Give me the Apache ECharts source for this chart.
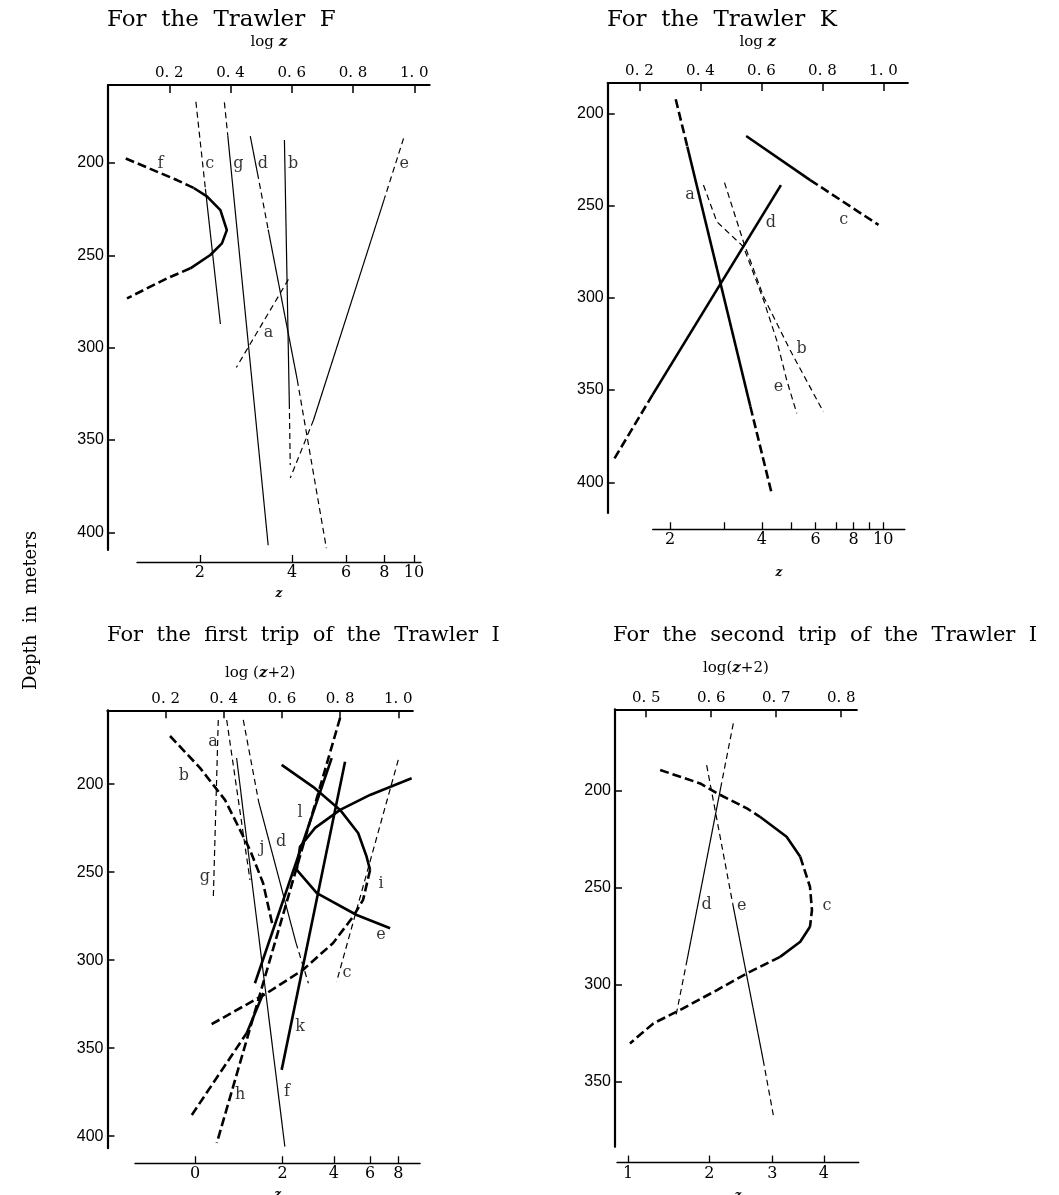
<!DOCTYPE html>
<html>
<head>
<meta charset="utf-8">
<script src="https://cdn.jsdelivr.net/npm/echarts@6/dist/echarts.min.js"></script>
<style>
html, body { margin: 0; background: #fff; }
#main { width: 1059px; height: 1195px; }
</style>
</head>
<body>
<div id="main"></div>
<script>
// ---- data: [log z (or log(z+2)), depth m] ----
// Trawler F
var F_f1 = [[0.058,197.5],[0.225,209.2],[0.28,213.5]];
var F_f2 = [[0.28,213.5],[0.323,218],[0.367,225.5],[0.388,236.3],[0.372,243.5],[0.334,249.8],[0.269,257]];
var F_f3 = [[0.269,257],[0.192,262.5],[0.062,273.3]];
var F_c1 = [[0.287,166.8],[0.318,214]];
var F_c2 = [[0.318,214],[0.367,287.2]];
var F_g1 = [[0.380,167.1],[0.391,185]];
var F_g2 = [[0.391,185],[0.523,407]];
var F_d1 = [[0.4645,185.4],[0.488,205.4]];
var F_d2 = [[0.488,205.4],[0.523,236]];
var F_d3 = [[0.523,236],[0.618,317.5]];
var F_d4 = [[0.618,317.5],[0.713,408.6]];
var F_b1 = [[0.576,187.5],[0.592,330]];
var F_b2 = [[0.592,330],[0.595,363.6]];
var F_e1 = [[0.965,186.6],[0.903,219]];
var F_e2 = [[0.903,219],[0.671,339.2]];
var F_e3 = [[0.671,339.2],[0.595,370.6]];
var F_a = [[0.589,263],[0.419,310.7]];
var F_labels = [['f',0.171,200.2],['c',0.332,200.2],['g',0.426,200.2],['d',0.506,200.2],['b',0.604,200.2],['e',0.967,200.2],['a',0.524,291.9]];

// Trawler K
var K_a1 = [[0.319,192.4],[0.357,218]];
var K_a2 = [[0.357,218],[0.564,359]];
var K_a3 = [[0.564,359],[0.635,406.9]];
var K_c1 = [[0.550,212.3],[0.760,236.2]];
var K_c2 = [[0.760,236.2],[0.984,260.5]];
var K_d1 = [[0.664,238.9],[0.243,352.6]];
var K_d2 = [[0.243,352.6],[0.115,387.9]];
var K_b = [[0.479,237.6],[0.541,269.6],[0.607,299.4],[0.694,328.3],[0.803,361.7]];
var K_e = [[0.410,238.9],[0.454,258.8],[0.541,272.3],[0.607,301.2],[0.650,322.9],[0.683,344.6],[0.716,362.6]];
var K_labels = [['a',0.366,244.4],['c',0.870,257.5],['d',0.631,259.3],['b',0.732,327.4],['e',0.656,348.5]];

// Trawler I, first trip (log(z+2))
var I1_a = [[0.410,163.5],[0.490,254.4]];
var I1_g = [[0.381,163.5],[0.364,264.0]];
var I1_b = [[0.215,172.6],[0.318,190.7],[0.404,208.9],[0.490,237.3],[0.535,256.1],[0.569,281.1]];
var I1_d1 = [[0.467,163.5],[0.52,210]];
var I1_d2 = [[0.52,210],[0.648,290]];
var I1_d3 = [[0.648,290],[0.691,313.1]];
var I1_f = [[0.444,185.1],[0.610,405.9]];
var I1_c = [[1.000,186.2],[0.788,312.2]];
var I1_e = [[1.046,196.6],[0.903,206.1],[0.800,214.6],[0.714,224.8],[0.662,235.5],[0.651,248.7],[0.720,261.9],[0.857,274.3],[0.972,281.8]];
var I1_i1 = [[0.599,189.0],[0.707,201.5],[0.800,214.6],[0.862,227.7],[0.891,241.1],[0.903,248.7]];
var I1_i2 = [[0.903,248.7],[0.879,265.7],[0.844,275.4],[0.776,290.2],[0.672,305.5],[0.549,318.6],[0.353,336.8]];
var I1_L = [[0.800,162.3],[0.376,403.8]];
var I1_l = [[0.771,185.2],[0.507,313.1]];
var I1_k = [[0.817,187.2],[0.599,362.3]];
var I1_h1 = [[0.290,387.9],[0.479,341.3]];
var I1_h2 = [[0.479,341.3],[0.536,318.6]];
var I1_labels = [['a',0.363,176],['b',0.263,195.3],['g',0.335,252.7],['j',0.531,236.2],['d',0.597,232.8],['l',0.662,216.3],
  ['i',0.941,256.6],['e',0.941,285.6],['c',0.824,307.2],['k',0.662,337.9],['h',0.456,376.5],['f',0.617,374.8]];

// Trawler I, second trip (log(z+2))
var I2_c1 = [[0.5215,189.3],[0.583,196.2],[0.609,201.3],[0.655,209.1],[0.675,213.4]];
var I2_c2 = [[0.675,213.4],[0.716,223.7],[0.737,234.0]];
var I2_c3 = [[0.737,234.0],[0.752,249.5],[0.755,261.5],[0.752,270.1]];
var I2_c4 = [[0.752,270.1],[0.737,277.8],[0.706,285.6]];
var I2_c5 = [[0.706,285.6],[0.655,294.1],[0.609,302.7],[0.552,313.0],[0.511,319.9],[0.475,330.2]];
var I2_d1 = [[0.634,165.3],[0.616,196]];
var I2_d2 = [[0.616,196],[0.563,287]];
var I2_d3 = [[0.563,287],[0.545,317.3]];
var I2_e1 = [[0.593,186.8],[0.633,258]];
var I2_e2 = [[0.633,258],[0.680,338.8]];
var I2_e3 = [[0.680,338.8],[0.696,368]];
var I2_labels = [['d',0.593,259],['e',0.647,259.4],['c',0.778,259.4]];

// axis ticks
var depthTicks = [200, 250, 300, 350, 400];
var topTicksA = [0.2, 0.4, 0.6, 0.8, 1.0];
var topTicksB = [0.5, 0.6, 0.7, 0.8];
var zTicksF = [2, 4, 6, 8, 10];
var zTicksK = [2, 3, 4, 5, 6, 7, 8, 9, 10];
var zLabelsK = [2, 4, 6, 8, 10];
var zTicksI1 = [0, 2, 4, 6, 8];
var zTicksI2 = [1, 2, 3, 4];

var THIN = 1.2, THICK = 2.6;
var pieces = [
  // panel, data, width, dashed
  [0, F_f1, THICK, true], [0, F_f2, THICK, false], [0, F_f3, THICK, true],
  [0, F_c1, THIN, true], [0, F_c2, THIN, false],
  [0, F_g1, THIN, true], [0, F_g2, THIN, false],
  [0, F_d1, THIN, false], [0, F_d2, THIN, true], [0, F_d3, THIN, false], [0, F_d4, THIN, true],
  [0, F_b1, THIN, false], [0, F_b2, THIN, true],
  [0, F_e1, THIN, true], [0, F_e2, THIN, false], [0, F_e3, THIN, true],
  [0, F_a, THIN, true],
  [1, K_a1, THICK, true], [1, K_a2, THICK, false], [1, K_a3, THICK, true],
  [1, K_c1, THICK, false], [1, K_c2, THICK, true],
  [1, K_d1, THICK, false], [1, K_d2, THICK, true],
  [1, K_b, THIN, true], [1, K_e, THIN, true],
  [2, I1_a, THIN, true], [2, I1_g, THIN, true], [2, I1_b, THICK, true],
  [2, I1_d1, THIN, true], [2, I1_d2, THIN, false], [2, I1_d3, THIN, true],
  [2, I1_f, THIN, false], [2, I1_c, THIN, true],
  [2, I1_e, THICK, false], [2, I1_i1, THICK, false], [2, I1_i2, THICK, true],
  [2, I1_L, THICK, true], [2, I1_l, THICK, false], [2, I1_k, THICK, false],
  [2, I1_h1, THICK, true], [2, I1_h2, THICK, false],
  [3, I2_c1, THICK, true], [3, I2_c2, THICK, false], [3, I2_c3, THICK, true], [3, I2_c4, THICK, false], [3, I2_c5, THICK, true],
  [3, I2_d1, THIN, true], [3, I2_d2, THIN, false], [3, I2_d3, THIN, true],
  [3, I2_e1, THIN, true], [3, I2_e2, THIN, false], [3, I2_e3, THIN, true]
];
var labelSets = [F_labels, K_labels, I1_labels, I2_labels];

// ---- layout of the four panels ----
var panels = [
  { grid: {left: 108, top: 85, width: 321.6, height: 465}, x: [0, 1.05], y: [157.7, 409.6], ticks: topTicksA, name: 'log {i|z}', gap: 35,
    zGrid: {left: 137, top: 561, width: 284, height: 1}, zx: [0.0955, 1.023], zTicks: zTicksF, zLabels: zTicksF, zShift: 0, zGap: 26 },
  { grid: {left: 607.7, top: 83, width: 300.1, height: 430}, x: [0.096, 1.08], y: [183.6, 416.6], ticks: topTicksA, name: 'log {i|z}', gap: 33,
    zGrid: {left: 652.7, top: 528.3, width: 252.2, height: 1}, zx: [0.244, 1.071], zTicks: zTicksK, zLabels: zLabelsK, zShift: 0, zGap: 38 },
  { grid: {left: 107.5, top: 710.3, width: 305.3, height: 437.9}, x: [0, 1.05], y: [158, 406.8], ticks: topTicksA, name: 'log ({i|z}+2)', gap: 30,
    zGrid: {left: 135, top: 1163, width: 285.1, height: 1}, zx: [0.0946, 1.075], zTicks: zTicksI1, zLabels: zTicksI1, zShift: 2, zGap: 26 },
  { grid: {left: 615, top: 709.3, width: 241.8, height: 437.5}, x: [0.452, 0.824], y: [158, 383.5], ticks: topTicksB, name: 'log({i|z}+2)', gap: 34,
    zGrid: {left: 617, top: 1162.3, width: 241.8, height: 1}, zx: [0.46, 0.832], zTicks: zTicksI2, zLabels: zTicksI2, zShift: 2, zGap: 27 }
];

var SERIF = 'DejaVu Serif';
var grids = [], xAxes = [], yAxes = [], series = [];

panels.forEach(function (p, i) {
  grids.push(p.grid, p.zGrid);
  xAxes.push({
    gridIndex: 2 * i, type: 'value', position: 'top', min: p.x[0], max: p.x[1],
    name: p.name, nameLocation: 'middle', nameGap: p.gap,
    nameTextStyle: {fontFamily: SERIF, fontSize: 15, color: '#000',
      rich: {i: {fontFamily: SERIF, fontSize: 15, fontStyle: 'italic', fontWeight: 'bold', color: '#000'}}},
    axisLine: {lineStyle: {color: '#000', width: 2.2}},
    axisTick: {inside: true, length: 8, customValues: p.ticks, lineStyle: {color: '#000', width: 1.5}},
    axisLabel: {customValues: p.ticks, margin: 4, fontFamily: SERIF, fontSize: 15, color: '#000',
      formatter: function (v) { return v.toFixed(1).replace('.', '. '); }},
    splitLine: {show: false}
  });
  xAxes.push({
    gridIndex: 2 * i + 1, type: 'value', position: 'bottom', min: p.zx[0], max: p.zx[1],
    name: '{i|z}', nameLocation: 'middle', nameGap: p.zGap,
    nameTextStyle: {rich: {i: {fontFamily: SERIF, fontSize: 12, fontStyle: 'italic', fontWeight: 'bold', color: '#000'}}},
    axisLine: {lineStyle: {color: '#000', width: 1.3}},
    axisTick: {inside: true, length: 7, customValues: p.zTicks.map(function (z) { return Math.log10(z + p.zShift); }),
      lineStyle: {color: '#000', width: 1.3}},
    axisLabel: {customValues: p.zLabels.map(function (z) { return Math.log10(z + p.zShift); }),
      margin: 3, fontFamily: SERIF, fontSize: 16, color: '#000',
      formatter: function (v) { return String(Math.round(Math.pow(10, v) - p.zShift)); }},
    splitLine: {show: false}
  });
  yAxes.push({
    gridIndex: 2 * i, type: 'value', inverse: true, min: p.y[0], max: p.y[1],
    axisLine: {lineStyle: {color: '#000', width: 2.2}},
    axisTick: {inside: true, length: 7, customValues: depthTicks, lineStyle: {color: '#000', width: 1.5}},
    axisLabel: {customValues: depthTicks, margin: 4, fontFamily: 'Liberation Sans', fontSize: 16, color: '#000'},
    splitLine: {show: false}
  });
  yAxes.push({gridIndex: 2 * i + 1, type: 'value', show: false});
});

pieces.forEach(function (pc) {
  series.push({
    type: 'line', xAxisIndex: 2 * pc[0], yAxisIndex: 2 * pc[0], data: pc[1],
    showSymbol: false, symbol: 'none', animation: false, silent: true,
    lineStyle: {color: '#000', width: pc[2], type: pc[3] ? (pc[2] > 2 ? [9, 4] : [6, 4]) : 'solid'}
  });
});

labelSets.forEach(function (set, i) {
  series.push({
    type: 'scatter', xAxisIndex: 2 * i, yAxisIndex: 2 * i, symbolSize: 0, animation: false, silent: true,
    data: set.map(function (l) { return {name: l[0], value: [l[1], l[2]]}; }),
    label: {show: true, position: 'inside', formatter: '{b}', fontFamily: SERIF, fontSize: 16, color: '#000'}
  });
});

var chart = echarts.init(document.getElementById('main'));
chart.setOption({
  backgroundColor: '#fff',
  animation: false,
  grid: grids,
  xAxis: xAxes,
  yAxis: yAxes,
  series: series,
  graphic: [
    {type: 'text', left: 107, top: 9, style: {text: 'For  the  Trawler  F', font: '23px "DejaVu Serif"', fill: '#000'}},
    {type: 'text', left: 607, top: 9, style: {text: 'For  the  Trawler  K', font: '23px "DejaVu Serif"', fill: '#000'}},
    {type: 'text', left: 107, top: 625, style: {text: 'For  the  first  trip  of  the  Trawler  I', font: '21px "DejaVu Serif"', fill: '#000'}},
    {type: 'text', left: 613, top: 625, style: {text: 'For  the  second  trip  of  the  Trawler  I', font: '21px "DejaVu Serif"', fill: '#000'}},
    {type: 'text', x: 22, y: 690, rotation: Math.PI / 2, style: {text: 'Depth  in  meters', font: '18px "DejaVu Serif"', fill: '#000'}}
  ]
});
</script>
</body>
</html>
